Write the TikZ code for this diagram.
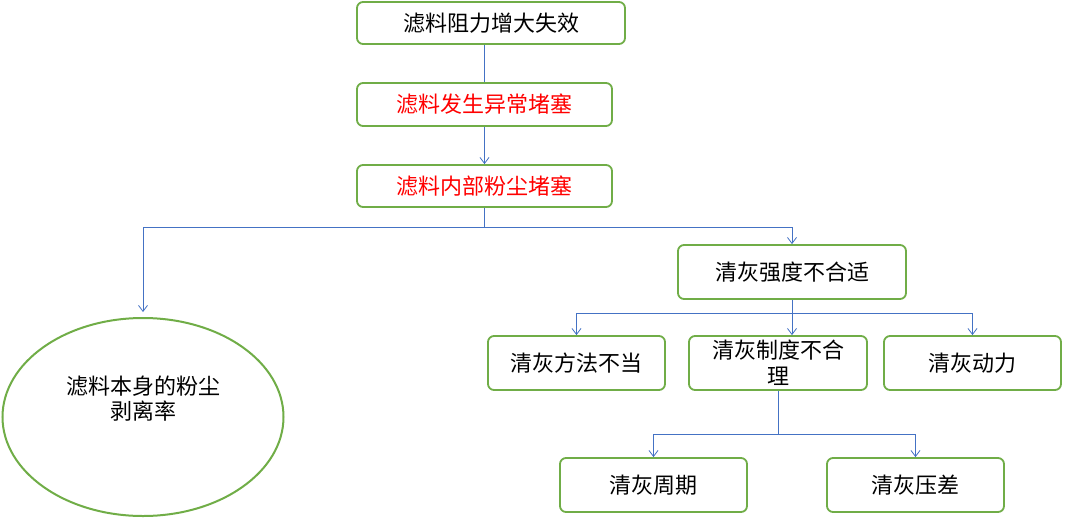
\documentclass[tikz,border=0pt]{standalone}
\usepackage{fontspec}
\setmainfont{Noto Sans CJK SC}
\usetikzlibrary{arrows.meta,shapes.geometric}
\definecolor{boxgreen}{RGB}{112,173,71}
\definecolor{linkblue}{RGB}{68,114,196}
\definecolor{warnred}{RGB}{255,0,0}
\tikzset{
    cause/.style={draw=boxgreen, line width=1.8pt, rounded corners=6pt, fill=white,
        align=center, font=\fontsize{22}{26}\selectfont, inner sep=2pt},
    link/.style={draw=linkblue, line width=0.8pt, -{Straight Barb[length=6pt,width=9pt]}},
    plain/.style={draw=linkblue, line width=0.8pt}
}
\begin{document}
\begin{tikzpicture}[x=1pt,y=-1pt]
    \useasboundingbox (0,0) rectangle (1070,519);

    % top chain
    \node[cause, minimum width=268pt, minimum height=42pt] (fail) at (491,23) {滤料阻力增大失效};
    \node[cause, minimum width=255pt, minimum height=43pt, text=warnred] (block) at (484.5,104.5) {滤料发生异常堵塞};
    \node[cause, minimum width=255pt, minimum height=42pt, text=warnred] (inner) at (484.5,186) {滤料内部粉尘堵塞};

    % left branch
    \node[draw=boxgreen, line width=2pt, ellipse, minimum width=281pt, minimum height=198pt] (peel) at (143,417) {};
    \node[align=center, font=\fontsize{22}{25}\selectfont] (peeltext) at (143,399) {滤料本身的粉尘\\剥离率};

    % right branch
    \node[cause, minimum width=228pt, minimum height=54pt] (force) at (792,272) {清灰强度不合适};
    \node[cause, minimum width=177pt, minimum height=54pt] (method) at (576.5,363) {清灰方法不当};
    \node[cause, minimum width=178pt, minimum height=54pt] (rule) at (778,363) {清灰制度不合\\理};
    \node[cause, minimum width=177pt, minimum height=54pt] (power) at (972.5,363) {清灰动力};
    \node[cause, minimum width=187pt, minimum height=54pt] (cycle) at (653.5,485) {清灰周期};
    \node[cause, minimum width=177pt, minimum height=54pt] (press) at (915.5,485) {清灰压差};

    % connectors
    \draw[plain] (block.north |- fail.south) -- (block.north);
    \draw[link] (block.south) -- (inner.north);
    \coordinate (split) at (484.5,227);
    \draw[plain] (inner.south) -- (split);
    \draw[link] (split) -| ([yshift=5pt]peel.north);
    \draw[link] (split) -| (force.north);

    \coordinate (fork) at (792,313);
    \draw[plain] (force.south) -- (fork);
    \draw[link] (fork) -| (method.north);
    \draw[link] (fork) -- (fork |- rule.north);
    \draw[link] (fork) -| (power.north);

    \coordinate (lower) at (778,434);
    \draw[plain] (rule.south) -- (lower);
    \draw[link] (lower) -| (cycle.north);
    \draw[link] (lower) -| (press.north);
\end{tikzpicture}
\end{document}
